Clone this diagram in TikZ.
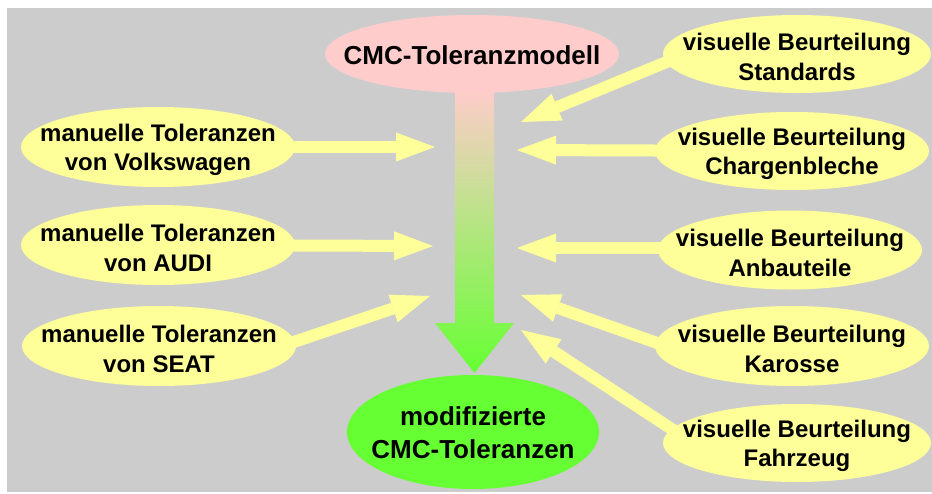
\documentclass[tikz,border=0pt]{standalone}
\usepackage{fontspec}
\setmainfont{Liberation Sans}
\usetikzlibrary{shapes.geometric,arrows.meta,backgrounds}
\definecolor{bggrey}{HTML}{CCCCCC}
\definecolor{yel}{HTML}{FFFF99}
\definecolor{pinkc}{HTML}{FFCCCC}
\definecolor{greenc}{HTML}{66FF33}
\begin{document}
\begin{tikzpicture}[x=1pt,y=-1pt,
  ell/.style={ellipse, inner sep=0pt, draw=none},
  txt/.style={align=center, inner sep=0pt, yshift=-3pt, font=\bfseries\fontsize{24}{29.5}\selectfont},
  bigtxt/.style={align=center, inner sep=0pt, yshift=-1pt, font=\bfseries\fontsize{26}{33}\selectfont},
  feed/.style={draw=yel, line width=12pt, -{Triangle[width=29pt,length=39pt,line width=0pt]}}
]
\useasboundingbox (0,0) rectangle (932,493);

% central ellipses
\node[ell, fill=pinkc, minimum width=294pt, minimum height=78pt] (top) at (472,54) {};
\node[bigtxt] (toptxt) at (top.center) {CMC-Toleranzmodell};
\node[ell, fill=greenc, minimum width=252pt, minimum height=114pt] (res) at (473,432) {};
\node[bigtxt] (restxt) at (res.center) {modifizierte\\CMC-Toleranzen};

% left ellipses
\node[ell, fill=yel, minimum width=274pt, minimum height=80pt] (vw) at (158,147) {};
\node[txt] (vwtxt) at (vw.center) {manuelle Toleranzen\\von Volkswagen};
\node[ell, fill=yel, minimum width=274pt, minimum height=80pt] (audi) at (158,245) {};
\node[txt] (auditxt) at (audi.center) {manuelle Toleranzen\\von AUDI};
\node[ell, fill=yel, minimum width=274pt, minimum height=80pt] (seat) at (159,346) {};
\node[txt] (seattxt) at (seat.center) {manuelle Toleranzen\\von SEAT};

% right ellipses
\node[ell, fill=yel, minimum width=268pt, minimum height=78pt] (st) at (797,54) {};
\node[txt] (sttxt) at (st.center) {visuelle Beurteilung\\Standards};
\node[ell, fill=yel, minimum width=274pt, minimum height=78pt] (ch) at (792,151) {};
\node[txt] (chtxt) at (ch.center) {visuelle Beurteilung\\Chargenbleche};
\node[ell, fill=yel, minimum width=264pt, minimum height=79pt] (an) at (790,250) {};
\node[txt] (antxt) at (an.center) {visuelle Beurteilung\\Anbauteile};
\node[ell, fill=yel, minimum width=274pt, minimum height=80pt] (ka) at (792,346) {};
\node[txt] (katxt) at (ka.center) {visuelle Beurteilung\\Karosse};
\node[ell, fill=yel, minimum width=268pt, minimum height=78pt] (fa) at (797,443) {};
\node[txt] (fatxt) at (fa.center) {visuelle Beurteilung\\Fahrzeug};

% arrow ends and starts
\coordinate (tvw) at (435,147);
\coordinate (taudi) at (433,246);
\coordinate (tseat) at (430,296);
\coordinate (sseat) at (270,350);
\coordinate (tst) at (521,122);
\coordinate (sst) at (686,54);
\coordinate (tch) at (517,150);
\coordinate (tan) at (517,248);
\coordinate (san) at (700,248);
\coordinate (tka) at (521,295);
\coordinate (ska) at (680,351);
\coordinate (tfa) at (521,330);
\coordinate (sfa) at (690,441);

\begin{pgfonlayer}{background}
\fill[bggrey] (7,8) rectangle (932,492);
\draw[feed] (vw.center) -- (tvw);
\draw[feed] (audi.center) -- (taudi);
\draw[feed] (sseat) -- (tseat);
\draw[feed] (sst) -- (tst);
\draw[feed] (ch.center) -- (tch);
\draw[feed] (san) -- (tan);
\draw[feed] (ska) -- (tka);
\draw[feed] (sfa) -- (tfa);
\shade[top color=pinkc, bottom color=greenc]
  (455,88) -- (494,88) -- (494,323) -- (514,323) -- (474.5,373) -- (435,323) -- (455,323) -- cycle;
\end{pgfonlayer}
\end{tikzpicture}
\end{document}
